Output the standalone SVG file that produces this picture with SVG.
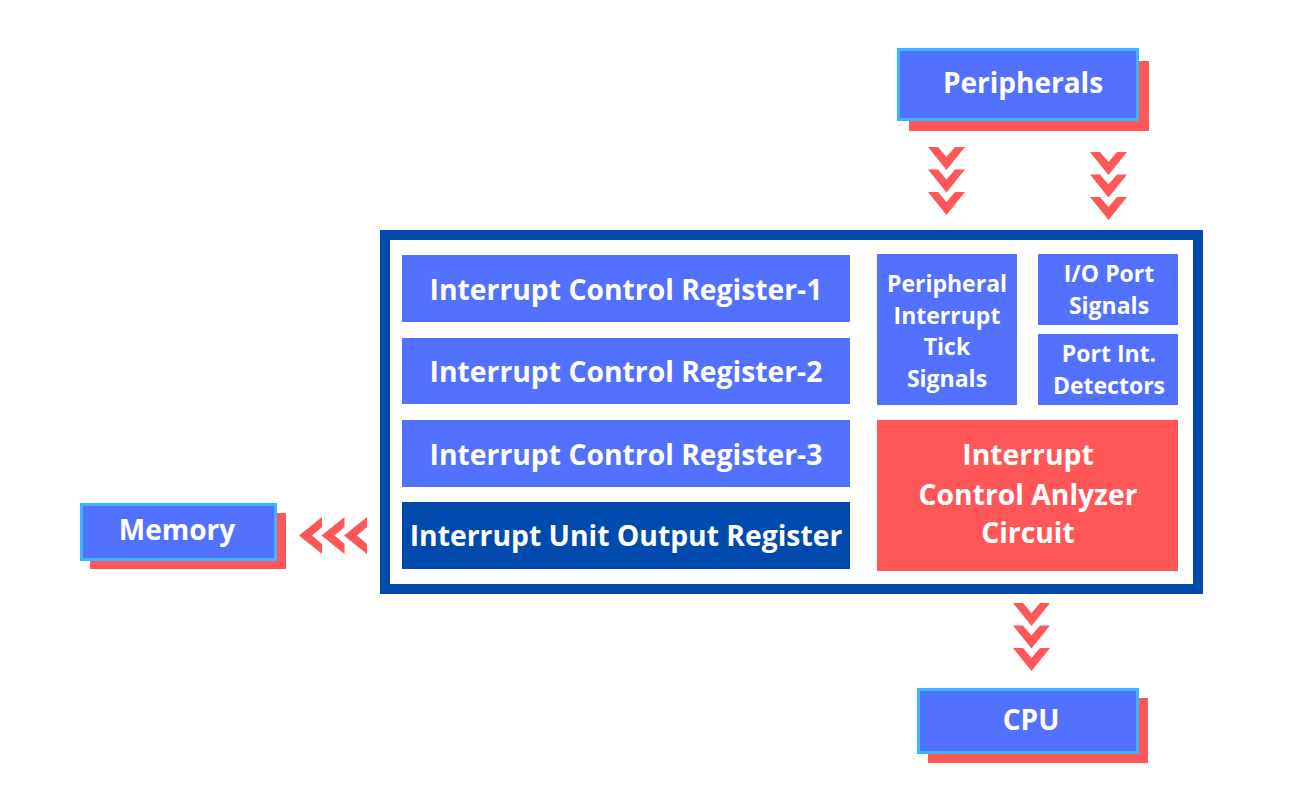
<svg xmlns="http://www.w3.org/2000/svg" width="1308" height="807" viewBox="0 0 1308 807">
<style>
text{font-family:"Open Sans","Liberation Sans",sans-serif;font-weight:700;fill:#fff;text-anchor:middle}
.blue{fill:#5271FF}
.shadow{fill:#FF5757}
.ext{fill:#5271FF;stroke:#38B6FF;stroke-width:3}
.chev{fill:#FF5757}
.big{font-size:28px}
.mid{font-size:28.3px}
.sm{font-size:23px}
</style>
<defs>
<polygon id="chv" points="0,0 10,0 18.5,10 27,0 37,0 18.5,23"/>
</defs>
<rect width="1308" height="807" fill="#fff"/>
<g id="connectors">
<g class="chev">
<use href="#chv" x="928" y="147"/><use href="#chv" x="928" y="169.5"/><use href="#chv" x="928" y="192"/>
<use href="#chv" x="1090" y="152"/><use href="#chv" x="1090" y="174.5"/><use href="#chv" x="1090" y="197"/>
<use href="#chv" x="1013" y="603"/><use href="#chv" x="1013" y="625.5"/><use href="#chv" x="1013" y="648"/>
<g transform="translate(367,517) rotate(90)"><use href="#chv" x="0" y="0"/><use href="#chv" x="0" y="22.5"/><use href="#chv" x="0" y="45"/></g>
</g>
</g>
<g id="peripherals">
<rect class="shadow" x="909" y="61" width="240" height="70"/>
<rect class="ext" x="898.5" y="49.5" width="239" height="70"/>
<text class="big" x="1023" y="93">Peripherals</text>
</g>
<g id="memory">
<rect class="shadow" x="90" y="513" width="196" height="56"/>
<rect class="ext" x="81.5" y="504.5" width="194" height="55"/>
<text class="big" x="177" y="540">Memory</text>
</g>
<g id="cpu">
<rect class="shadow" x="928" y="698" width="220" height="65"/>
<rect class="ext" x="918.5" y="689.5" width="219" height="63"/>
<text class="big" x="1031" y="730">CPU</text>
</g>
<g id="container">
<rect x="385" y="235" width="813" height="354" fill="#fff" stroke="#004AAD" stroke-width="10"/>
</g>
<g id="icr1">
<rect class="blue" x="402" y="255" width="448" height="67"/>
<text class="mid" x="626" y="300">Interrupt Control Register-1</text>
</g>
<g id="icr2">
<rect class="blue" x="402" y="338" width="448" height="66"/>
<text class="mid" x="626" y="382">Interrupt Control Register-2</text>
</g>
<g id="icr3">
<rect class="blue" x="402" y="420" width="448" height="67"/>
<text class="mid" x="626" y="465">Interrupt Control Register-3</text>
</g>
<g id="iuor">
<rect x="402" y="502" width="448" height="67" fill="#004AAD"/>
<text class="mid" x="626" y="546">Interrupt Unit Output Register</text>
</g>
<g id="pits">
<rect class="blue" x="877" y="254" width="140" height="151"/>
<text class="sm" x="947" y="292">Peripheral</text>
<text class="sm" x="947" y="323.5">Interrupt</text>
<text class="sm" x="947" y="355">Tick</text>
<text class="sm" x="947" y="386.5">Signals</text>
</g>
<g id="ioport">
<rect class="blue" x="1038" y="254" width="140" height="71"/>
<text class="sm" x="1109" y="282">I/O Port</text>
<text class="sm" x="1109" y="313.5">Signals</text>
</g>
<g id="portint">
<rect class="blue" x="1038" y="334" width="140" height="71"/>
<text class="sm" x="1109" y="362">Port Int.</text>
<text class="sm" x="1109" y="393.5">Detectors</text>
</g>
<g id="analyzer">
<rect class="shadow" x="877" y="420" width="301" height="151"/>
<text class="mid" x="1028" y="465">Interrupt</text>
<text class="mid" x="1028" y="505">Control Anlyzer</text>
<text class="mid" x="1028" y="543">Circuit</text>
</g>
</svg>
